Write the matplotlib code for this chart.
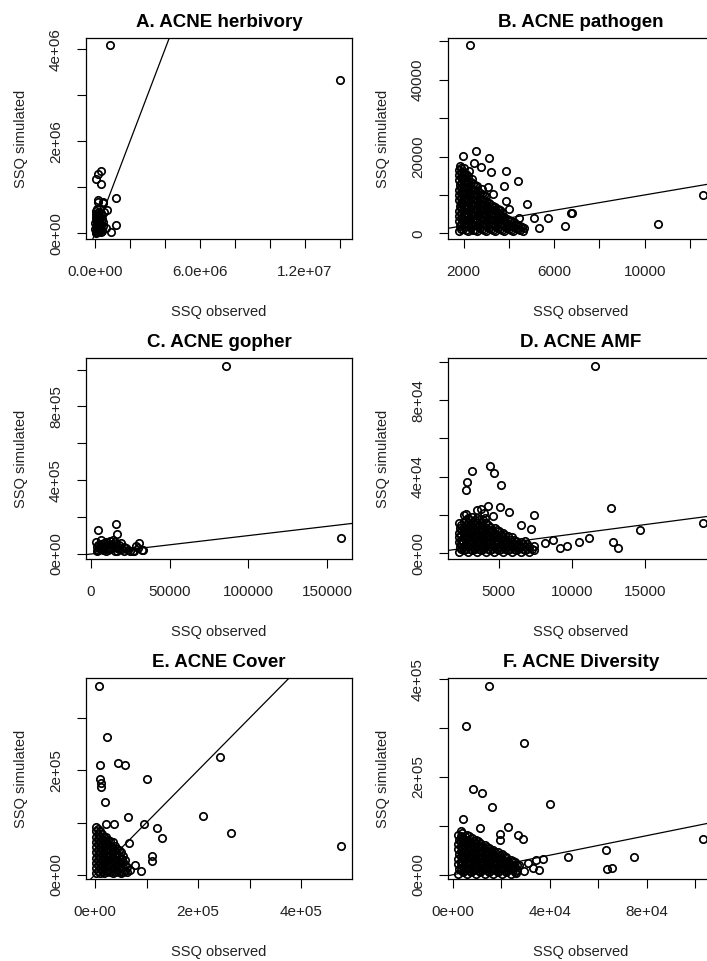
import matplotlib
matplotlib.use("Agg")
import matplotlib.pyplot as plt
from matplotlib.ticker import FixedLocator, FixedFormatter

plt.rcParams['font.family'] = ['Liberation Sans', 'DejaVu Sans']

# (SSQ observed, SSQ simulated)

herbivory_pts = [
    (14000000, 3330000), (857000, 4090000),
    (343000, 1361000), (154000, 1289000), (57000, 1174000), (343000, 1072000),
    (1200000, 774000), (154000, 690000), (440000, 665000), (189000, 724000),
    (474000, 687000), (670000, 507000), (530000, 470000),
    (1200000, 180000), (914000, 35000), (630000, 110000),
    (30000, 20000), (60000, 60000), (110000, 25000), (160000, 90000),
    (210000, 40000), (260000, 130000), (40000, 160000), (90000, 230000),
    (130000, 310000), (60000, 360000), (190000, 260000), (300000, 210000),
    (350000, 90000), (400000, 310000), (430000, 160000), (30000, 420000),
    (110000, 450000), (220000, 470000), (340000, 440000), (270000, 360000),
    (150000, 170000), (50000, 280000), (230000, 70000), (320000, 30000),
    (410000, 50000), (20000, 90000), (90000, 120000), (380000, 400000),
    (170000, 380000), (80000, 10000), (200000, 190000), (300000, 300000),
    (20000, 230000), (120000, 520000), (250000, 250000), (360000, 180000),
    (450000, 240000), (70000, 480000), (160000, 20000), (280000, 80000),
]

pathogen_pts = [
    (2296, 48970), (12575, 10050), (10584, 2320),
    (2544, 21470), (1956, 20180), (3137, 19510), (2442, 18300), (2766, 17190),
    (3208, 15900), (3872, 16160), (4389, 13740), (3770, 12450), (3062, 12030),
    (3283, 10310), (3872, 8330), (4801, 7650), (3580, 6000), (3991, 6440),
    (5128, 3870), (5717, 4050), (6748, 5410), (5349, 1470), (6482, 1980),
    (4686, 1470), (4465, 3870), (6792, 5340),
    (1780, 600), (1820, 1900), (1790, 3300), (1810, 4600), (1770, 5900),
    (1830, 7200), (1790, 8600), (1810, 9900), (1780, 11200), (1820, 12600),
    (1790, 13900), (1810, 15200), (1780, 16500), (1820, 17600),
    (1990, 1200), (2020, 2500), (1980, 3800), (2010, 5200), (2030, 6500),
    (1990, 7800), (2010, 9100), (1980, 10500), (2020, 11800), (2000, 13100),
    (1990, 14500), (2020, 15800), (2000, 17000),
    (2190, 500), (2210, 1800), (2230, 3100), (2180, 4500), (2220, 5800),
    (2200, 7100), (2190, 8400), (2230, 9800), (2180, 11100), (2210, 12400),
    (2200, 13700), (2190, 15000), (2220, 16200),
    (2400, 1000), (2380, 2300), (2420, 3700), (2390, 5000), (2410, 6300),
    (2380, 7600), (2420, 9000), (2400, 10300), (2390, 11600), (2410, 12900),
    (2380, 14100),
    (2600, 500), (2620, 1800), (2580, 3100), (2610, 4400), (2590, 5800),
    (2620, 7100), (2600, 8400), (2580, 9700), (2610, 11000), (2590, 12300),
    (2790, 1100), (2810, 2400), (2800, 3700), (2820, 5000), (2780, 6400),
    (2810, 7700), (2790, 9000), (2800, 10300), (2820, 11500),
    (3000, 600), (2980, 1900), (3020, 3200), (3000, 4500), (2990, 5900),
    (3010, 7200), (3000, 8500), (2990, 9800),
    (3190, 1100), (3210, 2400), (3200, 3700), (3220, 5000), (3190, 6300),
    (3200, 7500),
    (3400, 600), (3390, 1900), (3410, 3200), (3400, 4500), (3420, 5800),
    (3390, 6900),
    (3600, 1100), (3610, 2400), (3590, 3700), (3600, 4900), (3610, 6000),
    (3800, 600), (3790, 1900), (3810, 3100), (3800, 4300),
    (3990, 1100), (4010, 2300), (4000, 3500),
    (4200, 600), (4190, 1800), (4210, 3000),
    (4390, 1100), (4410, 2300),
    (4600, 700), (4590, 1700),
]
# extra points filling the dense black core: observed value -> simulated values
pathogen_core = {
    1900: [1250, 2550, 3950, 5250, 6550, 7900, 9250, 10550, 11850, 13200, 14550, 15850, 17100],
    2100: [850, 2150, 3450, 4850, 6150, 7450, 8750, 10150, 11450, 12750, 14100, 15400],
    2300: [1300, 2600, 3900, 5300, 6600, 7900, 9300, 10600, 11900, 13300],
    2500: [750, 2050, 3350, 4700, 6000, 7350, 8700, 10000, 11300, 12600],
    2700: [1300, 2600, 3900, 5200, 6500, 7800, 9100, 10400],
    2900: [850, 2150, 3450, 4750, 6100, 7400, 8700, 9900],
    3100: [1300, 2600, 3900, 5300, 6600, 7800],
    3300: [850, 2150, 3450, 4750, 6000, 7100],
    3500: [1300, 2600, 3900, 5100, 6300],
    3700: [850, 2100, 3400, 4600, 5500],
    3900: [1300, 2500, 3700],
    4100: [850, 2000, 3200],
    4300: [1300, 2500],
    4500: [900, 2000],
}

gopher_pts = [
    (85770, 1019000), (158650, 86500),
    (15880, 163800), (16310, 109700), (4260, 127600), (30690, 59500),
    (28590, 44900), (32400, 19500), (26490, 14000), (19060, 59500),
    (15880, 55700),
    (3500, 14000), (3600, 40000), (3400, 66000),
    (6400, 25000), (6300, 52000), (6500, 76000),
    (9300, 14000), (9200, 40000), (9400, 66000),
    (12200, 25000), (12100, 52000), (12300, 72000),
    (15100, 14000), (15000, 40000), (15200, 64000),
    (18000, 25000), (18100, 50000),
    (20900, 14000), (21000, 38000),
    (23800, 22000), (27000, 16000), (30000, 30000), (33000, 21000),
    (5000, 30000), (8000, 60000), (11000, 30000), (14000, 75000),
]
gopher_core = {
    4500: [22000, 50000], 7500: [38000, 20000], 10500: [48000, 22000],
    13500: [50000, 30000], 16500: [18000, 30000], 17000: [40000],
    20000: [25000], 22000: [32000], 25000: [14000],
}

amf_pts = [
    (11555, 97830), (4432, 45630), (4705, 41860), (3171, 43050),
    (2829, 37360), (2760, 33230), (5158, 35660), (5089, 24130),
    (5685, 21550), (7445, 20150), (12692, 23620), (4247, 24960),
    (3788, 23260), (2760, 20670), (6527, 14990), (7212, 12920),
    (8130, 5170), (8699, 6870), (9158, 2580), (9679, 3980),
    (10459, 5680), (11144, 8110), (12808, 5680), (13151, 2580),
    (14658, 12040), (18973, 16020),
    (2600, 20000), (3500, 22500), (4000, 21000), (4600, 19500),
    (2300, 800), (2320, 3300), (2280, 5800), (2310, 8300), (2290, 10800),
    (2320, 13300), (2300, 15800),
    (2600, 1500), (2620, 4000), (2580, 6500), (2610, 9000), (2590, 11500),
    (2600, 14000), (2620, 16500),
    (2900, 700), (2880, 3200), (2920, 5700), (2900, 8200), (2890, 10700),
    (2910, 13200), (2900, 15700), (2880, 18200),
    (3200, 1500), (3220, 4000), (3180, 6500), (3210, 9000), (3190, 11500),
    (3200, 14000), (3220, 16500), (3190, 19000),
    (3500, 800), (3480, 3300), (3520, 5800), (3500, 8300), (3490, 10800),
    (3510, 13300), (3500, 15800), (3480, 18300),
    (3800, 1500), (3820, 4000), (3780, 6500), (3810, 9000), (3790, 11500),
    (3800, 14000), (3820, 16500),
    (4100, 800), (4080, 3300), (4120, 5800), (4100, 8300), (4090, 10800),
    (4110, 13300), (4100, 15800), (4080, 18300),
    (4400, 1500), (4420, 4000), (4380, 6500), (4410, 9000), (4390, 11500),
    (4400, 14000),
    (4700, 800), (4680, 3300), (4720, 5800), (4700, 8300), (4690, 10800),
    (4710, 13300),
    (5000, 1500), (5020, 4000), (4980, 6500), (5010, 9000), (4990, 11500),
    (5300, 800), (5280, 3300), (5320, 5800), (5300, 8300), (5290, 10800),
    (5600, 1500), (5620, 4000), (5580, 6500), (5610, 9000),
    (5900, 800), (5880, 3300), (5920, 5800), (5900, 8300),
    (6200, 1500), (6220, 4000), (6180, 6500),
    (6500, 800), (6480, 3300), (6520, 5800),
    (6800, 1500), (6820, 4000), (6780, 6500),
    (7100, 800), (7080, 3300),
    (7400, 1500), (7420, 4000),
]
amf_core = {
    2450: [2200, 4700, 7200, 9700, 12200, 14700],
    2750: [2200, 4700, 7200, 9700, 12200, 14700, 17200],
    3050: [2200, 4700, 7200, 9700, 12200, 14700, 17200],
    3350: [2200, 4700, 7200, 9700, 12200, 14700, 17200],
    3650: [2200, 4700, 7200, 9700, 12200, 14700, 17200],
    3950: [2200, 4700, 7200, 9700, 12200, 14700, 17200],
    4250: [2200, 4700, 7200, 9700, 12200, 14700],
    4550: [2200, 4700, 7200, 9700, 12200],
    4850: [2200, 4700, 7200, 9700, 12200],
    5150: [2200, 4700, 7200, 9700],
    5450: [2200, 4700, 7200, 9700],
    5750: [2200, 4700, 7200],
    6050: [2200, 4700, 7200],
    6350: [2200, 4700],
    6650: [2200, 4700],
    6950: [2200, 4700],
    7250: [2200],
}

cover_pts = [
    (8350, 361400), (23300, 264400), (9710, 210300), (45240, 213500),
    (58250, 210300), (9710, 182900), (11650, 175300), (11650, 168800),
    (100400, 182900), (20000, 140200), (63500, 111500), (95700, 97500),
    (119800, 90400), (130100, 71300), (110700, 36300), (110700, 25400),
    (78300, 19100), (89300, 6300), (68500, 8200), (37500, 97500),
    (66600, 60600), (209100, 113200), (242700, 225000), (264100, 79700),
    (477000, 56000), (1940, 92400), (21400, 97500),
    (2000, 3000), (2100, 13000), (1900, 23000), (2000, 33000), (2100, 43000),
    (1900, 53000), (2000, 63000), (2100, 73000), (1900, 83000),
    (6000, 8000), (6100, 18000), (5900, 28000), (6000, 38000), (6100, 48000),
    (5900, 58000), (6000, 68000), (6100, 78000), (5900, 88000),
    (10000, 3000), (10100, 13000), (9900, 23000), (10000, 33000),
    (10100, 43000), (9900, 53000), (10000, 63000), (10100, 73000),
    (9900, 83000),
    (14000, 8000), (14100, 18000), (13900, 28000), (14000, 38000),
    (14100, 48000), (13900, 58000), (14000, 68000), (14100, 78000),
    (18000, 3000), (18100, 13000), (17900, 23000), (18000, 33000),
    (18100, 43000), (17900, 53000), (18000, 63000), (18100, 73000),
    (26000, 8000), (26100, 18000), (25900, 28000), (26000, 38000),
    (26100, 48000), (25900, 58000), (26000, 66000),
    (34000, 3000), (34100, 13000), (33900, 23000), (34000, 33000),
    (34100, 43000), (33900, 53000), (34000, 62000),
    (42000, 8000), (42100, 18000), (41900, 28000), (42000, 38000),
    (42100, 50000),
    (50000, 3000), (50100, 13000), (49900, 23000), (50000, 33000),
    (50100, 44000),
    (58000, 8000), (58100, 18000), (57900, 28000),
]
cover_core = {
    22000: [5000, 15000, 25000, 35000, 45000, 55000, 65000, 72000],
    30000: [5000, 15000, 25000, 35000, 45000, 55000, 64000],
    38000: [5000, 15000, 25000, 35000, 45000, 56000],
    46000: [5000, 15000, 25000, 35000, 47000],
    54000: [5000, 15000, 25000, 36000],
    62000: [5000, 15000],
}

diversity_pts = [
    (14750, 386300), (5540, 304700), (29500, 268800), (8140, 174900),
    (11980, 166700), (16120, 139400), (39830, 144900), (4010, 113700),
    (11320, 95900), (22890, 97300), (19420, 83700), (19590, 71400),
    (27020, 81600), (28930, 72800), (47400, 36100), (63220, 49600),
    (63640, 12000), (65700, 13500), (74670, 36100), (103180, 72900),
    (37070, 32000), (27430, 20400), (30870, 23900), (34300, 30600),
    (32930, 13700), (35700, 8800), (29500, 6700), (26030, 3500),
    (2200, 2000), (2300, 12000), (2100, 22000), (2200, 32000), (2300, 42000),
    (2100, 52000), (2200, 62000), (2300, 72000), (2100, 82000),
    (4000, 6000), (4100, 16000), (3900, 26000), (4000, 36000), (4100, 46000),
    (3900, 56000), (4000, 66000), (4100, 76000), (3900, 86000),
    (5800, 2000), (5900, 12000), (5700, 22000), (5800, 32000), (5900, 42000),
    (5700, 52000), (5800, 62000), (5900, 72000), (5700, 82000),
    (7600, 6000), (7700, 16000), (7500, 26000), (7600, 36000), (7700, 46000),
    (7500, 56000), (7600, 66000), (7700, 76000),
    (9400, 2000), (9500, 12000), (9300, 22000), (9400, 32000), (9500, 42000),
    (9300, 52000), (9400, 62000), (9500, 72000),
    (11200, 6000), (11300, 16000), (11100, 26000), (11200, 36000),
    (11300, 46000), (11100, 56000), (11200, 64000),
    (13000, 2000), (13100, 12000), (12900, 22000), (13000, 32000),
    (13100, 42000), (12900, 52000), (13000, 60000),
    (14800, 6000), (14900, 16000), (14700, 26000), (14800, 36000),
    (14900, 46000), (14700, 54000),
    (16600, 2000), (16700, 12000), (16500, 22000), (16600, 32000),
    (16700, 42000), (16500, 50000),
    (18400, 6000), (18500, 16000), (18300, 26000), (18400, 36000),
    (18500, 46000),
    (20200, 2000), (20300, 12000), (20100, 22000), (20200, 32000),
    (20300, 42000),
    (22000, 6000), (22100, 16000), (21900, 26000), (22000, 36000),
    (23800, 2000), (23900, 12000), (23700, 22000), (23800, 31000),
    (25600, 6000), (25700, 16000), (25500, 25000),
]
diversity_core = {
    3100: [9000, 19000, 29000, 39000, 49000, 59000, 69000, 79000, 89000],
    4900: [9000, 19000, 29000, 39000, 49000, 59000, 69000, 79000],
    6700: [9000, 19000, 29000, 39000, 49000, 59000, 69000, 79000],
    8500: [9000, 19000, 29000, 39000, 49000, 59000, 69000],
    10300: [9000, 19000, 29000, 39000, 49000, 59000, 69000],
    12100: [9000, 19000, 29000, 39000, 49000, 59000],
    13900: [9000, 19000, 29000, 39000, 49000, 57000],
    15700: [9000, 19000, 29000, 39000, 49000],
    17500: [9000, 19000, 29000, 39000, 47000],
    19300: [9000, 19000, 29000, 39000],
    21100: [9000, 19000, 29000, 39000],
    22900: [9000, 19000, 29000],
    24700: [9000, 19000, 29000],
    26500: [9000, 19000],
}

titles = ["A. ACNE herbivory", "B. ACNE pathogen", "C. ACNE gopher",
          "D. ACNE AMF", "E. ACNE Cover", "F. ACNE Diversity"]
all_pts = [herbivory_pts, pathogen_pts, gopher_pts, amf_pts, cover_pts, diversity_pts]
all_core = [{}, pathogen_core, gopher_core, amf_core, cover_core, diversity_core]

x_ticks = [
    [0, 2e6, 4e6, 6e6, 8e6, 1e7, 1.2e7, 1.4e7],
    [2000, 4000, 6000, 8000, 10000, 12000],
    [0, 50000, 100000, 150000],
    [5000, 10000, 15000],
    [0, 1e5, 2e5, 3e5, 4e5, 5e5],
    [0, 2e4, 4e4, 6e4, 8e4, 1e5],
]
x_tick_labels = [
    ["0.0e+00", "", "", "6.0e+06", "", "", "1.2e+07", ""],
    ["2000", "", "6000", "", "10000", ""],
    ["0", "50000", "100000", "150000"],
    ["5000", "10000", "15000"],
    ["0e+00", "", "2e+05", "", "4e+05", ""],
    ["0e+00", "", "4e+04", "", "8e+04", ""],
]
y_ticks = [
    [0, 1e6, 2e6, 3e6, 4e6],
    [0, 10000, 20000, 30000, 40000, 50000],
    [0, 2e5, 4e5, 6e5, 8e5, 1e6],
    [0, 2e4, 4e4, 6e4, 8e4, 1e5],
    [0, 1e5, 2e5, 3e5],
    [0, 1e5, 2e5, 3e5, 4e5],
]
y_tick_labels = [
    ["0e+00", "", "2e+06", "", "4e+06"],
    ["0", "", "20000", "", "40000", ""],
    ["0e+00", "", "4e+05", "", "8e+05", ""],
    ["0e+00", "", "4e+04", "", "8e+04", ""],
    ["0e+00", "", "2e+05", ""],
    ["0e+00", "", "2e+05", "", "4e+05"],
]

# axis ranges matched to the reference plot boxes
x_lims = [(-514000, 1.469e7), (1305, 13062), (-3180, 165800),
          (1527, 19726), (-17476, 499000), (-2066, 107727)]
y_lims = [(-124000, 4.245e6), (-1470, 50850), (-27000, 1.063e6),
          (-2946, 101964), (-8200, 377000), (-8776, 402650)]

W, H = 707, 961
fig = plt.figure(figsize=(W / 100, H / 100), dpi=100)

col_left = [86, 448]
row_top = [38, 358, 678]
box_w, box_h = 266, 201

for i in range(6):
    r, c = divmod(i, 2)
    left = col_left[c] / W
    bottom = 1 - (row_top[r] + box_h) / H
    ax = fig.add_axes([left, bottom, box_w / W, box_h / H])

    obs = [p[0] for p in all_pts[i]]
    sim = [p[1] for p in all_pts[i]]
    for xo, ys in all_core[i].items():
        obs += [xo] * len(ys)
        sim += ys
    ax.plot(obs, sim, 'o', mfc='none', mec='black', ms=5.3, mew=1.25)
    ax.axline((0, 0), slope=1, color='black', lw=0.9)

    ax.set_xlim(*x_lims[i])
    ax.set_ylim(*y_lims[i])
    ax.xaxis.set_major_locator(FixedLocator(x_ticks[i]))
    ax.xaxis.set_major_formatter(FixedFormatter(x_tick_labels[i]))
    ax.yaxis.set_major_locator(FixedLocator(y_ticks[i]))
    ax.yaxis.set_major_formatter(FixedFormatter(y_tick_labels[i]))

    ax.tick_params(direction='out', length=6.5, width=0.8, labelsize=11,
                   color='black', labelcolor='#222222')
    ax.tick_params(axis='x', pad=12)
    ax.tick_params(axis='y', pad=10)
    for lab in ax.get_yticklabels():
        lab.set_rotation(90)
        lab.set_va('center')
    for s in ax.spines.values():
        s.set_linewidth(0.9)

    ax.set_title(titles[i], fontsize=13.5, fontweight='bold', pad=8)
    ax.set_xlabel('SSQ observed', fontsize=10.5, color='#222222')
    ax.xaxis.set_label_coords(0.5, -0.362)
    ax.xaxis.label.set_va('center')
    ax.set_ylabel('SSQ simulated', fontsize=10.5, color='#222222')
    ax.yaxis.set_label_coords(-0.245, 0.5)
    ax.yaxis.label.set_va('center')

fig.savefig('out.png', dpi=100)
